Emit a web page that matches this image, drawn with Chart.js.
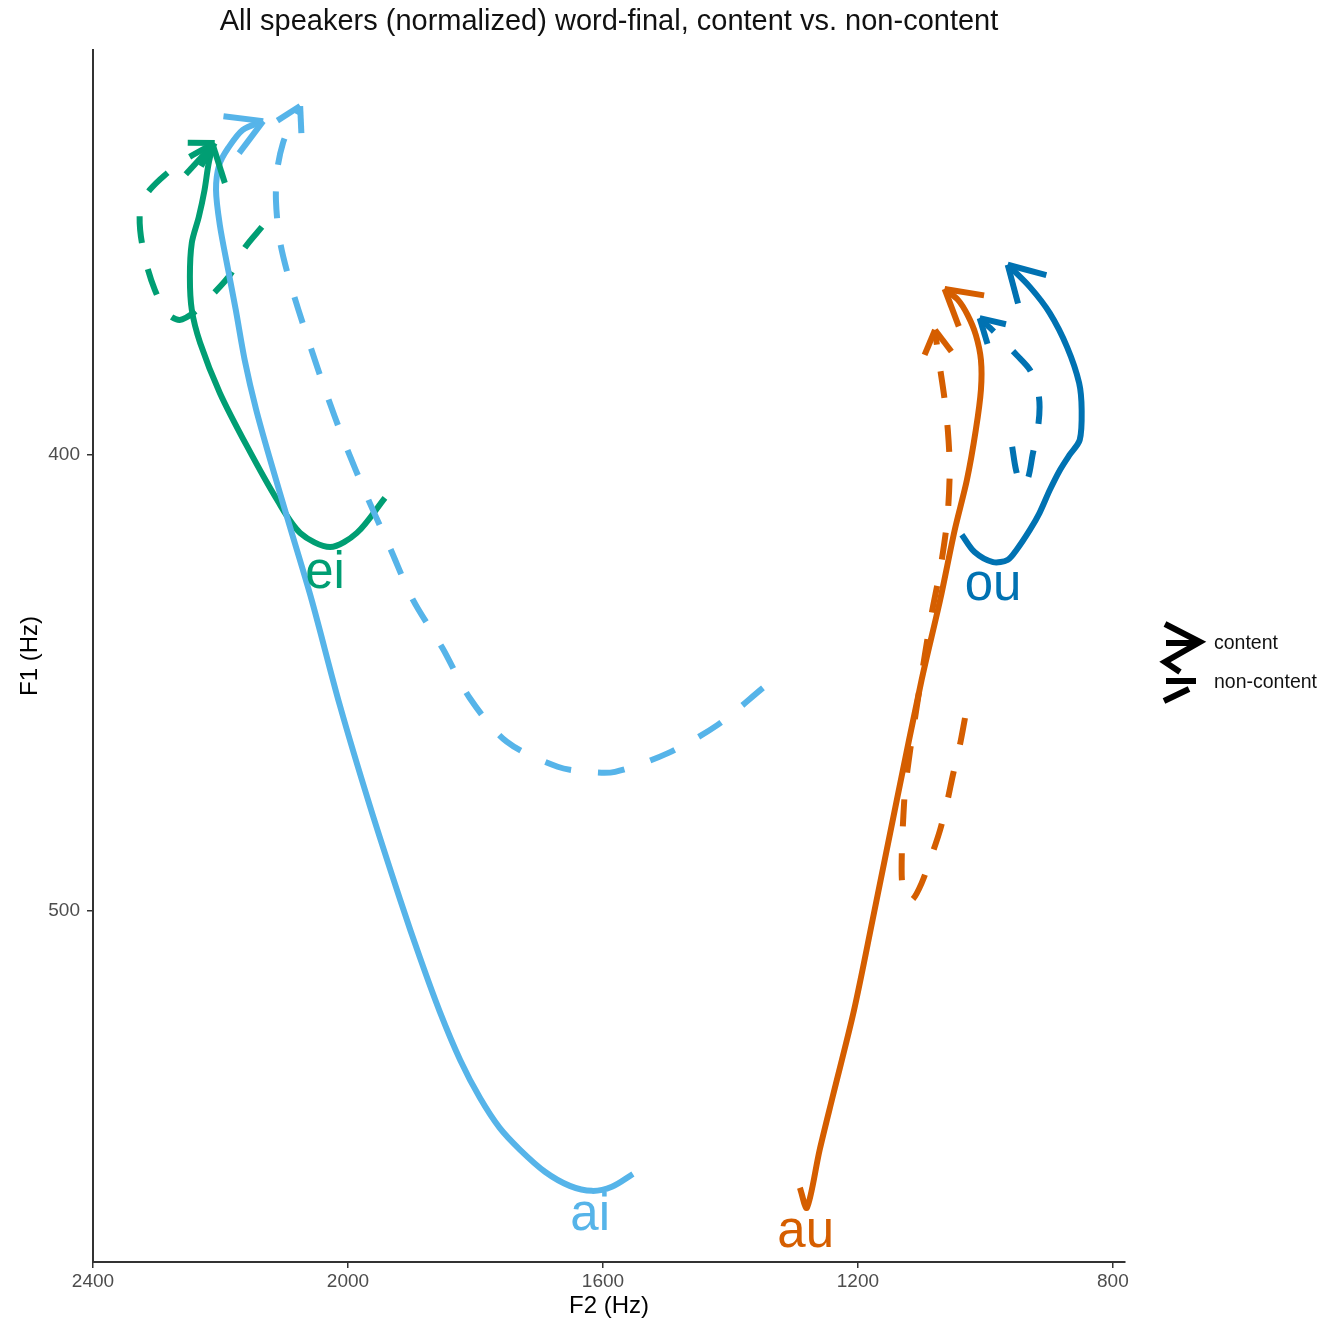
<!DOCTYPE html>
<html>
<head>
<meta charset="utf-8">
<script src="https://cdn.jsdelivr.net/npm/chart.js@4.4.1/dist/chart.umd.min.js"></script>
<style>
  html, body { margin: 0; padding: 0; background: #fff; }
</style>
</head>
<body>
<canvas id="c" width="1322" height="1323"></canvas>
<script>
'use strict';

// trajectories, onset -> offset (arrow at offset). F2 on x, F1 on y.
const aiContentF2 = [1553, 1586, 1617, 1652, 1691, 1730, 1762, 1793, 1824, 1856, 1887, 1918, 1966, 2013, 2057, 2091, 2122, 2144, 2162, 2176, 2188, 2201, 2207, 2202, 2188, 2165, 2133];
const aiContentF1 = [557.7, 560.5, 561.4, 560.3, 557.2, 552.4, 547.6, 541.0, 532.7, 522.1, 510.3, 497.6, 476.8, 454.8, 431.8, 415.8, 401.1, 390.1, 379.2, 368.2, 359.4, 349.6, 341.9, 336.4, 332.7, 328.7, 326.8];

const aiNonF2 = [1349, 1420, 1498, 1581, 1623, 1671, 1751, 1809, 1852, 1898, 1934, 1970, 2005, 2036, 2064, 2091, 2107, 2113, 2111, 2102, 2088, 2075];
const aiNonF1 = [451.1, 459.2, 465.4, 469.5, 469.5, 468.4, 462.9, 453.3, 442.3, 431.8, 420.4, 409.2, 397.4, 385.7, 374.1, 362.1, 352.9, 344.1, 337.5, 331.6, 327.0, 323.5];

const eiContentF2 = [1942, 1986, 2028, 2075, 2111, 2158, 2201, 2232, 2245, 2248, 2245, 2234, 2225, 2219, 2212];
const eiContentF1 = [409.4, 417.1, 420.2, 417.1, 409.9, 398.2, 386.4, 375.4, 368.2, 361.0, 353.5, 347.8, 341.9, 336.4, 332.0];

const eiNonF2 = [2135, 2162, 2185, 2213, 2240, 2264, 2284, 2303, 2317, 2326, 2325, 2311, 2287, 2256, 2209];
const eiNonF1 = [350.0, 354.6, 360.5, 364.9, 368.6, 370.4, 368.9, 363.8, 357.7, 350.7, 345.2, 341.9, 338.6, 335.3, 331.6];

const auContentF2 = [1291, 1280, 1260, 1239, 1206, 1177, 1139, 1100, 1071, 1048, 1029, 1015, 1007, 1007, 1015, 1028, 1043, 1064];
const auContentF1 = [560.7, 565.1, 552.4, 540.4, 521.7, 502.0, 475.7, 449.3, 431.8, 416.4, 405.5, 394.5, 385.7, 379.2, 373.7, 369.3, 366.0, 363.6];

const auNonF2 = [1032, 1040, 1051, 1060, 1071, 1084, 1100, 1115, 1126, 1131, 1131, 1129, 1126, 1118, 1106, 1095, 1084, 1071, 1060, 1056, 1059, 1065, 1073, 1079];
const auNonF1 = [457.7, 463.6, 470.2, 476.1, 482.2, 487.7, 493.9, 497.6, 497.1, 493.2, 486.6, 480.0, 473.5, 464.7, 453.7, 443.9, 434.6, 425.2, 414.3, 403.3, 394.5, 386.8, 379.2, 372.6];

const ouContentF2 = [1037, 1017, 988, 965, 951, 930, 915, 899, 883, 868, 852, 849, 853, 872, 899, 930, 965];
const ouContentF1 = [417.5, 421.3, 423.5, 423.0, 420.8, 416.4, 412.7, 407.7, 403.3, 400.0, 396.7, 390.1, 384.2, 376.3, 368.9, 363.2, 358.3];

const ouNonF2 = [958, 952, 943, 933, 926, 918, 915, 918, 930, 951, 977, 993, 1009];
const ouNonF1 = [398.2, 403.3, 407.0, 405.0, 400.0, 394.5, 389.5, 385.7, 381.4, 378.1, 374.3, 372.1, 370.0];

// vowel labels (centre F2, baseline F1)
const vowelLabels = ['ei', 'ai', 'ou', 'au'];
const labelF2 = [2036, 1620, 988, 1282];
const labelF1 = [429.2, 570.0, 431.8, 573.7];

const legendLabels = ['content', 'non-content'];
const xTicks = [2400, 2000, 1600, 1200, 800];
const yTicks = [400, 500];

const SKY = '#56B4E9', GREEN = '#009E73', BLUE = '#0072B2', ORANGE = '#D55E00';
const DASH = [27, 27];
const FONT = '"Liberation Sans", Arial, sans-serif';

function pts(f2, f1) {
    return f2.map((v, i) => ({ x: v, y: f1[i] }));
}

function series(f2, f1, color, dashed) {
    return {
        data: pts(f2, f1),
        borderColor: color,
        borderWidth: 6,
        borderDash: dashed ? DASH : [],
        showLine: true,
        pointRadius: 0,
        tension: 0.3,
        fill: false,
    };
}

const datasets = [
    series(aiNonF2, aiNonF1, SKY, true),
    series(aiContentF2, aiContentF1, SKY, false),
    series(eiNonF2, eiNonF1, GREEN, true),
    series(eiContentF2, eiContentF1, GREEN, false),
    series(auNonF2, auNonF1, ORANGE, true),
    series(auContentF2, auContentF1, ORANGE, false),
    series(ouNonF2, ouNonF1, BLUE, true),
    series(ouContentF2, ouContentF1, BLUE, false),
];
const labelColors = [GREEN, SKY, BLUE, ORANGE];

// open arrowhead on the last segment of every trajectory
const arrowPlugin = {
    id: 'arrows',
    afterDatasetsDraw(chart) {
        const ctx = chart.ctx;
        chart.data.datasets.forEach((ds, i) => {
            const el = chart.getDatasetMeta(i).data;
            const a = el[el.length - 2], b = el[el.length - 1];
            const ang = Math.atan2(b.y - a.y, b.x - a.x);
            ctx.save();
            ctx.strokeStyle = ds.borderColor;
            ctx.lineWidth = ds.borderWidth;
            ctx.setLineDash(ds.borderDash);
            [Math.PI * 5 / 6, -Math.PI * 5 / 6].forEach(d => {
                ctx.beginPath();
                ctx.moveTo(b.x, b.y);
                ctx.lineTo(b.x + 40 * Math.cos(ang + d), b.y + 40 * Math.sin(ang + d));
                ctx.stroke();
            });
            ctx.restore();
        });
    },
};

const textPlugin = {
    id: 'texts',
    afterDraw(chart) {
        const ctx = chart.ctx;
        const xs = chart.scales.x, ys = chart.scales.y;
        ctx.save();
        ctx.font = '51px ' + FONT;
        ctx.textAlign = 'center';
        ctx.textBaseline = 'alphabetic';
        vowelLabels.forEach((t, i) => {
            ctx.fillStyle = labelColors[i];
            ctx.fillText(t, xs.getPixelForValue(labelF2[i]), ys.getPixelForValue(labelF1[i]));
        });

        // title, centred on the panel
        const ca = chart.chartArea;
        ctx.fillStyle = '#111';
        ctx.font = '29px ' + FONT;
        ctx.textBaseline = 'middle';
        ctx.fillText('All speakers (normalized) word-final, content vs. non-content', (ca.left + ca.right) / 2, 22);

        // legend keys (black arrows) + labels
        ctx.strokeStyle = '#000';
        ctx.lineWidth = 6;
        ctx.beginPath();
        ctx.moveTo(1165, 624); ctx.lineTo(1200, 642); ctx.lineTo(1165, 662); ctx.lineTo(1180, 672);
        ctx.moveTo(1166, 643); ctx.lineTo(1196, 643);
        ctx.stroke();
        ctx.beginPath();
        ctx.moveTo(1166, 681); ctx.lineTo(1196, 681);
        ctx.moveTo(1164, 701); ctx.lineTo(1189, 689);
        ctx.stroke();
        ctx.fillStyle = '#111';
        ctx.font = '19.5px ' + FONT;
        ctx.textAlign = 'left';
        ctx.fillText(legendLabels[0], 1214, 644);
        ctx.fillText(legendLabels[1], 1214, 683);
        ctx.restore();
    },
};

const tickFont = { family: FONT, size: 19 };
const titleFont = { family: FONT, size: 24 };

new Chart(document.getElementById('c'), {
    type: 'scatter',
    data: { datasets: datasets },
    options: {
        responsive: false,
        animation: false,
        devicePixelRatio: 1,
        layout: { padding: { top: 50, right: 197, bottom: 0, left: 0 } },
        plugins: { legend: { display: false }, tooltip: { enabled: false }, title: { display: false } },
        scales: {
            x: {
                type: 'linear',
                reverse: true,
                min: 781,
                max: 2400,
                afterFit(s) { s.height = 61; },
                afterBuildTicks(s) { s.ticks = xTicks.map(v => ({ value: v })); },
                grid: { drawOnChartArea: false, drawTicks: true, tickLength: 6, color: '#333', lineWidth: 1.5 },
                border: { display: true, color: '#333', width: 2 },
                ticks: { font: tickFont, color: '#4d4d4d', padding: 2, maxRotation: 0, callback: v => String(v) },
                title: { display: true, text: 'F2 (Hz)', font: titleFont, color: '#000', padding: { top: 0, bottom: 2 } },
            },
            y: {
                type: 'linear',
                reverse: true,
                min: 311.2,
                max: 577,
                afterFit(s) { s.width = 93; },
                afterBuildTicks(s) { s.ticks = yTicks.map(v => ({ value: v })); },
                grid: { drawOnChartArea: false, drawTicks: true, tickLength: 6, color: '#333', lineWidth: 1.5 },
                border: { display: true, color: '#333', width: 2 },
                ticks: { font: tickFont, color: '#4d4d4d', padding: 7, callback: v => String(v) },
                title: { display: true, text: 'F1 (Hz)', font: titleFont, color: '#000', padding: { top: 16, bottom: 0 } },
            },
        },
    },
    plugins: [arrowPlugin, textPlugin],
});
</script>
</body>
</html>
